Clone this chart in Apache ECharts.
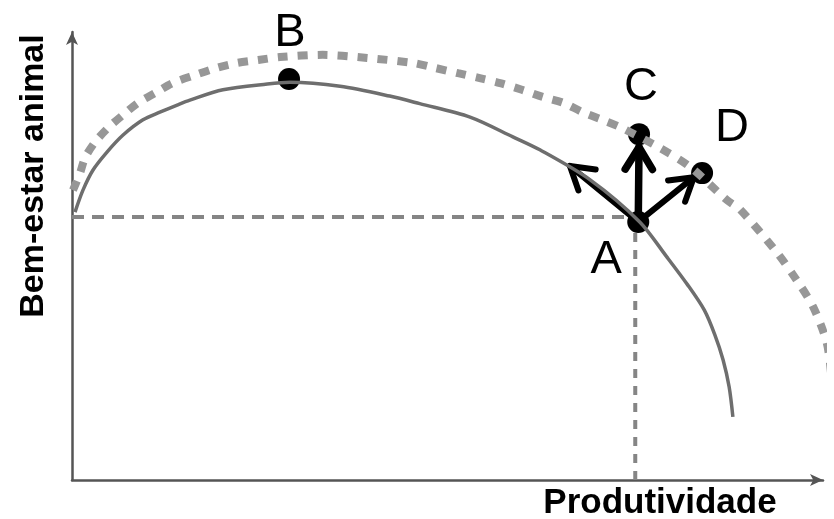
<!DOCTYPE html>
<html>
<head>
<meta charset="utf-8">
<script src="https://cdn.jsdelivr.net/npm/echarts@6/dist/echarts.min.js"></script>
<style>html,body{margin:0;padding:0;background:#fff}#c{width:834px;height:519px}</style>
</head>
<body>
<div id="c"></div>
<script>
// ---- data ----
const xAxisTitle = 'Produtividade';
const yAxisTitle = 'Bem-estar animal';

// current frontier (solid)
const currentFrontier = [
  [0.4, 59.8], [1.46, 64.7], [2.8, 69.2], [4.66, 73.2], [6.8, 77.0], [9.45, 80.4],
  [11.7, 82.1], [14.0, 83.7], [15.7, 84.8], [20.1, 87.1], [26.0, 88.4], [29.0, 88.8],
  [35.7, 87.9], [42.3, 85.7], [46.3, 84.0], [53.0, 81.0], [58.7, 76.6], [62.3, 73.7],
  [69.0, 67.0], [75.6, 57.6], [79.2, 49.8], [82.0, 43.5], [84.2, 37.9], [85.6, 32.4],
  [86.7, 26.8], [87.5, 20.8], [88.0, 14.1]
];

// expanded frontier (dotted)
const expandedFrontier = [
  [0.13, 64.7], [1.07, 68.5], [1.73, 71.9], [3.06, 75.4], [4.8, 78.6], [6.8, 81.5],
  [8.8, 84.2], [11.3, 86.6], [13.4, 88.6], [16.4, 90.4], [19.3, 92.0], [22.0, 93.1],
  [24.8, 93.75], [27.7, 94.4], [33.4, 94.9], [39.3, 94.2], [45.4, 93.1], [48.3, 92.0],
  [51.4, 90.8], [54.3, 89.7], [57.0, 88.6], [59.9, 87.1], [62.7, 85.5], [65.4, 84.2],
  [68.0, 82.1], [70.6, 80.4], [73.2, 78.6], [78.3, 74.1], [82.3, 69.9], [87.2, 62.5],
  [89.0, 60.3], [93.9, 50.7], [96.5, 44.6], [98.7, 38.6], [100.5, 30.6], [101.2, 21.7],
  [101.3, 19.0]
];

// labelled points
const pointNames = ['A', 'B', 'C', 'D'];
const pointX = [75.4, 28.9, 75.5, 83.9];
const pointY = [57.6, 89.5, 77.2, 68.5];

// reference (dashed) lines through A
const guideX = 75.0;
const guideY = 58.7;
const guideHEnd = 74.5;
const guideVEnd = 56.3;

// arrows from A
const arrowStartX = [75.4, 75.4, 75.4];
const arrowStartY = [57.6, 57.6, 57.6];
const arrowEndX = [66.3, 75.5, 82.8];
const arrowEndY = [70.1, 74.3, 67.6];
const arrowWidths = [6, 7.5, 6];

// ---- chart ----
const labelOffsets = { A: [-32, 38], B: [1, -46], C: [2, -47], D: [30, -45] };

const chart = echarts.init(document.getElementById('c'), null, { renderer: 'canvas' });

const axisCommon = {
  type: 'value', min: 0, max: 100,
  axisLine: { show: true, symbol: ['none', 'arrow'], symbolSize: [9, 13], lineStyle: { color: '#555', width: 2.5 } },
  axisTick: { show: false }, axisLabel: { show: false }, splitLine: { show: false }
};

const arrowData = arrowStartX.map((x, i) => [x, arrowStartY[i], arrowEndX[i], arrowEndY[i], arrowWidths[i]]);

const option = {
  animation: false,
  backgroundColor: '#fff',
  grid: { left: 72, right: 11, top: 32, bottom: 39 },
  xAxis: axisCommon,
  yAxis: Object.assign({}, axisCommon),
  graphic: [
    { type: 'text', x: 34, y: 176, rotation: Math.PI / 2,
      style: { text: yAxisTitle, font: 'bold 34px "Liberation Sans", Arial, sans-serif', fill: '#000', align: 'center', verticalAlign: 'middle' } },
    { type: 'text', x: 660, y: 503,
      style: { text: xAxisTitle, font: 'bold 35px "Liberation Sans", Arial, sans-serif', fill: '#000', align: 'center', verticalAlign: 'middle' } }
  ],
  series: [
    { type: 'line', data: [[0, guideY], [guideHEnd, guideY]], symbol: 'none', silent: true,
      lineStyle: { color: '#858585', width: 4, type: [12, 8] } },
    { type: 'line', data: [[guideX, 0], [guideX, guideVEnd]], symbol: 'none', silent: true,
      lineStyle: { color: '#858585', width: 4, type: [9, 8] } },
    { type: 'line', data: expandedFrontier, symbol: 'none', smooth: 0.3, clip: false, silent: true,
      lineStyle: { color: '#979797', width: 8, type: [10, 10], cap: 'butt' } },
    { type: 'line', data: currentFrontier, symbol: 'none', smooth: 0.3, silent: true,
      lineStyle: { color: '#6e6e6e', width: 3.5, join: 'round' } },
    { type: 'custom', data: arrowData, silent: true,
      renderItem: function (params, api) {
        const p0 = api.coord([api.value(0), api.value(1)]);
        const p1 = api.coord([api.value(2), api.value(3)]);
        const w = api.value(4);
        const ang = Math.atan2(p1[1] - p0[1], p1[0] - p0[0]);
        const L = 26, a = 0.55;
        const w1 = [p1[0] - L * Math.cos(ang - a), p1[1] - L * Math.sin(ang - a)];
        const w2 = [p1[0] - L * Math.cos(ang + a), p1[1] - L * Math.sin(ang + a)];
        const st = { stroke: '#000', lineWidth: w, fill: null, lineCap: 'round', lineJoin: 'round' };
        return { type: 'group', children: [
          { type: 'polyline', shape: { points: [p0, p1] }, style: st },
          { type: 'polyline', shape: { points: [w1, p1, w2] }, style: st }
        ] };
      } },
    { type: 'scatter', symbolSize: 22, silent: true,
      itemStyle: { color: '#000', opacity: 1 },
      data: pointNames.map((n, i) => ({
        name: n, value: [pointX[i], pointY[i]],
        label: { show: true, position: 'inside', offset: labelOffsets[n], formatter: '{b}',
          fontSize: 47, color: '#000', opacity: 1, fontFamily: '"Liberation Sans", Arial, sans-serif' }
      })) }
  ]
};
chart.setOption(option);
</script>
</body>
</html>
